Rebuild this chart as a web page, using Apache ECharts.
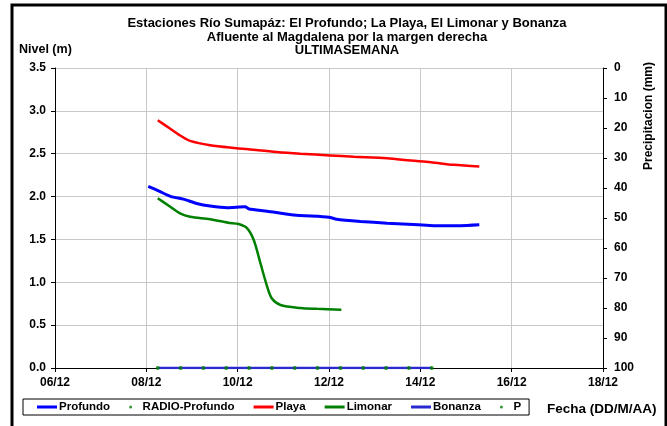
<!DOCTYPE html>
<html>
<head>
<meta charset="utf-8">
<script src="https://cdn.jsdelivr.net/npm/echarts@6/dist/echarts.min.js"></script>
<style>
html,body{margin:0;padding:0;background:#fff;}
#c{width:667px;height:426px;}
</style>
</head>
<body>
<div id="c"></div>
<script>
// ---- data (year assumed 2012) ----
const xTickLabels = ['06/12','08/12','10/12','12/12','14/12','16/12','18/12'];
const profundoTimes = ['08/12 01:00','08/12 07:00','08/12 13:00','08/12 19:30','09/12 02:30','09/12 09:30','09/12 18:30','10/12 04:00','10/12 06:00','10/12 15:30','11/12 05:30','12/12 00:00','12/12 04:00','12/12 16:30','13/12 06:30','13/12 23:00','14/12 07:00','14/12 21:00','15/12 07:00'];
const profundoValues = [2.12,2.06,2.00,1.97,1.92,1.89,1.87,1.88,1.855,1.83,1.785,1.76,1.735,1.71,1.69,1.67,1.66,1.66,1.67];
const playaTimes = ['08/12 06:00','08/12 12:00','08/12 18:00','08/12 23:00','09/12 09:30','09/12 23:30','10/12 06:30','10/12 20:30','11/12 09:00','12/12 00:30','12/12 13:00','13/12 06:30','13/12 19:00','14/12 05:30','14/12 17:30','15/12 07:00'];
const playaValues = [2.89,2.80,2.71,2.65,2.60,2.565,2.55,2.52,2.50,2.48,2.465,2.447,2.42,2.40,2.37,2.35];
const limonarTimes = ['08/12 06:00','08/12 12:00','08/12 18:00','08/12 23:00','09/12 09:30','09/12 19:00','10/12 00:30','10/12 05:00','10/12 08:30','10/12 12:00','10/12 15:30','10/12 18:00','10/12 22:30','11/12 09:00','11/12 17:40','12/12 06:30'];
const limonarValues = [1.98,1.89,1.80,1.765,1.735,1.695,1.68,1.63,1.49,1.22,0.95,0.81,0.735,0.70,0.69,0.68];
const radioTimes = ['08/12 06:00','08/12 18:00','09/12 06:00','09/12 18:00','10/12 06:00','10/12 18:00','11/12 06:00','11/12 18:00','12/12 06:00','12/12 18:00','13/12 06:00','13/12 18:00','14/12 06:00'];
const radioValues = [0,0,0,0,0,0,0,0,0,0,0,0,0];
const bonanzaTimes = ['08/12 06:00','14/12 06:00'];
const bonanzaValues = [0,0];
const pTimes = [];
const pValues = [];

// ---- helpers ----
function t(s){
  const [d,rest] = s.split(' ');
  const [dd,mm] = d.split('/').map(Number);
  const [hh,mi] = rest.split(':').map(Number);
  return Date.UTC(2012, mm-1, dd, hh, mi) / 86400000;
}
function pairs(ts, vs){ return ts.map((s,i)=>[t(s), vs[i]]); }
const xMin = t('06/12 00:00'), xMax = t('18/12 00:00');
const FONT = 'Liberation Sans, Arial, sans-serif';
const lab = {fontFamily:FONT,fontWeight:'bold',fontSize:12,color:'#000'};

const chart = echarts.init(document.getElementById('c'));
chart.setOption({
  animation:false,
  backgroundColor:'#fff',
  title:{
    text:'Estaciones Río Sumapáz: El Profundo; La Playa, El Limonar y Bonanza\nAfluente al Magdalena por la margen derecha\nULTIMASEMANA',
    left:342, top:12, textAlign:'center',
    textStyle:{fontFamily:FONT,fontWeight:'bold',fontSize:13,lineHeight:13.5,color:'#000'}
  },
  grid:{left:55,right:64,top:68,bottom:58,containLabel:false},
  legend:{
    left:23, top:399, padding:[2,8,2,14],
    borderColor:'#000', borderWidth:1, borderRadius:0,
    itemWidth:20, itemHeight:3, itemGap:19,
    textStyle:{fontFamily:FONT,fontWeight:'bold',fontSize:11.5,color:'#000',padding:[0,0,0,-3]},
    data:[
      {name:'Profundo',icon:'rect'},
      {name:'RADIO-Profundo',icon:'circle'},
      {name:'Playa',icon:'rect'},
      {name:'Limonar',icon:'rect'},
      {name:'Bonanza',icon:'rect'},
      {name:'P',icon:'circle'}
    ]
  },
  xAxis:{
    type:'value', min:xMin, max:xMax, interval:2,
    axisLine:{show:true,onZero:false,lineStyle:{color:'#000',width:1}},
    axisTick:{show:true,length:4,lineStyle:{color:'#000'}},
    axisLabel:Object.assign({margin:9,formatter:function(v){
      const d = new Date(Math.round(v*86400000));
      const s = String(d.getUTCDate()).padStart(2,'0')+'/'+String(d.getUTCMonth()+1).padStart(2,'0');
      return xTickLabels.indexOf(s) >= 0 ? s : '';
    }},lab),
    splitLine:{show:true,lineStyle:{color:'#c8c8c8',width:1}}
  },
  yAxis:[
    {type:'value',min:0,max:3.5,interval:0.5,
     axisLine:{show:true,lineStyle:{color:'#000'}},
     axisTick:{show:true,length:4,lineStyle:{color:'#000'}},
     axisLabel:Object.assign({margin:9,formatter:v=>v.toFixed(1)},lab),
     splitLine:{show:true,lineStyle:{color:'#c8c8c8',width:1}}},
    {type:'value',min:0,max:100,interval:10,inverse:true,position:'right',
     axisLine:{show:true,lineStyle:{color:'#000'}},
     axisTick:{show:true,length:4,inside:false,lineStyle:{color:'#000'}},
     axisLabel:Object.assign({margin:11},lab),
     splitLine:{show:false}}
  ],
  graphic:[
    {type:'rect',shape:{x:12,y:5,width:654,height:430},style:{fill:'none',stroke:'#000',lineWidth:3},silent:true},
    {type:'text',left:19,top:43,style:{text:'Nivel (m)',font:'bold 12.5px '+FONT,fill:'#000'}},
    {type:'text',x:547,y:402,style:{text:'Fecha (DD/M/AA)',font:'bold 13.5px '+FONT,fill:'#000'}},
    {type:'text',x:643,y:170,rotation:Math.PI/2,style:{text:'Precipitacion (mm)',font:'bold 12px '+FONT,fill:'#000'}}
  ],
  series:[
    {name:'Profundo',type:'line',data:pairs(profundoTimes,profundoValues),showSymbol:false,smooth:0.2,
     color:'#0000ff',lineStyle:{width:3,color:'#0000ff'},z:3},
    {name:'RADIO-Profundo',type:'scatter',data:pairs(radioTimes,radioValues),symbolSize:4,
     color:'#008000',itemStyle:{color:'#008000'},z:5},
    {name:'Playa',type:'line',data:pairs(playaTimes,playaValues),showSymbol:false,smooth:0.3,
     color:'#ff0000',lineStyle:{width:2.5,color:'#ff0000'},z:3},
    {name:'Limonar',type:'line',data:pairs(limonarTimes,limonarValues),showSymbol:false,smooth:0.3,
     color:'#008000',lineStyle:{width:2.5,color:'#008000'},z:3},
    {name:'Bonanza',type:'line',data:pairs(bonanzaTimes,bonanzaValues),showSymbol:false,
     color:'#2a2ad0',lineStyle:{width:2.5,color:'#2a2ad0'},z:4},
    {name:'P',type:'scatter',yAxisIndex:1,data:pairs(pTimes,pValues),symbolSize:3,
     color:'#008000',itemStyle:{color:'#008000'}}
  ]
});
</script>
</body>
</html>
